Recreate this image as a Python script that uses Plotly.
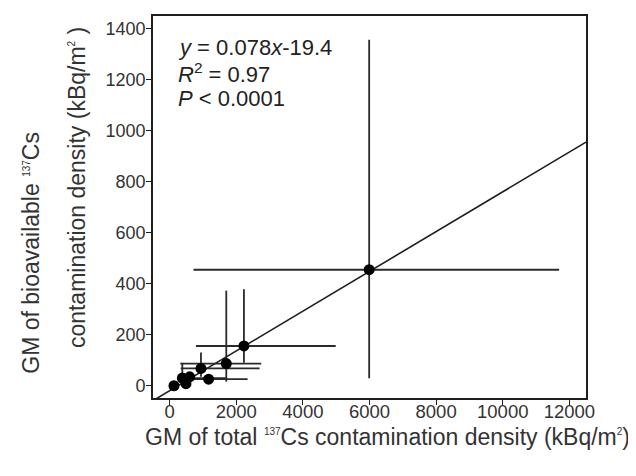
import plotly.graph_objects as go

# Data (kBq/m2)
total_gm = [130, 490, 380, 600, 940, 1170, 1700, 2230, 5990]
bio_gm = [0, 8, 30, 35, 68, 26, 87, 156, 455]
total_low = [130, 490, 300, 600, 330, 717, 320, 790, 717]
total_high = [130, 490, 1700, 600, 2700, 2340, 2750, 4985, 11693]
bio_low = [0, 8, 10, 35, 35, 26, 16, 90, 29]
bio_high = [0, 8, 90, 35, 130, 26, 373, 378, 1357]

slope = 0.078
intercept = -19.4
x_range = [-500, 12500]
y_range = [-48, 1450]
x_ticks = [0, 2000, 4000, 6000, 8000, 10000, 12000]
y_ticks = [0, 200, 400, 600, 800, 1000, 1200, 1400]
x_tick_labels = ["0", "2000", "4000", "6000", "8000", "10000", "12000"]
y_tick_labels = ["0", "200", "400", "600", "800", "1000", "1200", "1400"]

ink = "#1e1e1e"
font_family = "Liberation Sans, Arial, sans-serif"

# the page body has an 8px margin; shift the figure to compensate
OFF = 8
PL, PR, PT, PB = 153, 586, 14, 398  # plot area in page pixels
W, H = 636 - OFF, 476 - OFF


def px_x(p):
    return (p - PL) / (PR - PL)


def px_y(p):
    return 1 - (p - PT) / (PB - PT)


fig = go.Figure()

fig.add_trace(go.Scatter(
    x=x_range,
    y=[slope * v + intercept for v in x_range],
    mode="lines",
    line=dict(color=ink, width=1.6),
    showlegend=False,
    hoverinfo="skip",
))

fig.add_trace(go.Scatter(
    x=total_gm,
    y=bio_gm,
    mode="markers",
    marker=dict(color="#000000", size=11),
    error_x=dict(
        type="data", symmetric=False,
        array=[h - v for h, v in zip(total_high, total_gm)],
        arrayminus=[v - l for l, v in zip(total_low, total_gm)],
        color="#2a2a2a", thickness=1.8, width=0,
    ),
    error_y=dict(
        type="data", symmetric=False,
        array=[h - v for h, v in zip(bio_high, bio_gm)],
        arrayminus=[v - l for l, v in zip(bio_low, bio_gm)],
        color="#2a2a2a", thickness=1.8, width=0,
    ),
    showlegend=False,
))

axis_common = dict(
    showgrid=False, zeroline=False,
    showline=True, mirror=True, linecolor=ink, linewidth=1.6,
    ticks="outside", ticklen=5, tickwidth=1.4, tickcolor=ink,
)

fig.update_layout(
    width=W, height=H,
    margin=dict(l=PL - OFF, r=W - (PR - OFF), t=PT - OFF, b=H - (PB - OFF)),
    paper_bgcolor="white", plot_bgcolor="white",
    font=dict(family=font_family, color="#333333"),
    xaxis=dict(range=x_range, tickvals=x_ticks, ticktext=x_tick_labels,
               tickfont=dict(family=font_family, size=18.5, color="#333333"),
               ticklabelstandoff=-9, **axis_common),
    yaxis=dict(range=y_range, tickvals=y_ticks, ticktext=y_tick_labels,
               tickfont=dict(family=font_family, size=18, color="#333333"),
               ticklabelstandoff=-3, **axis_common),
)

txt = dict(family=font_family, size=22, color="#222222")
stats_lines = [
    "<i>y</i> = 0.078<i>x</i>-19.4",
    "<i>R</i><sup>2</sup> = 0.97",
    "<i>P</i> &lt; 0.0001",
]
stats_y = [46, 71, 97]
for line, py in zip(stats_lines, stats_y):
    fig.add_annotation(
        text=line, xref="paper", yref="paper",
        x=px_x(176), y=px_y(py),
        xanchor="left", yanchor="middle", showarrow=False, font=txt,
    )

title_font = dict(family=font_family, size=23, color="#333333")
small = '<sup><span style="font-size:10px">{}</span></sup>'
fig.add_annotation(
    text="GM of total " + small.format("137") + "Cs contamination density (kBq/m"
         + small.format("2") + ")",
    xref="paper", yref="paper",
    x=px_x(387), y=px_y(437),
    xanchor="center", yanchor="middle", showarrow=False, font=title_font,
)
fig.add_annotation(
    text="GM of bioavailable " + small.format("137") + "Cs",
    xref="paper", yref="paper",
    x=px_x(31), y=px_y(252),
    xanchor="center", yanchor="middle", showarrow=False, textangle=-90,
    font=title_font,
)
fig.add_annotation(
    text="contamination density (kBq/m" + small.format("2") + " )",
    xref="paper", yref="paper",
    x=px_x(77), y=px_y(187),
    xanchor="center", yanchor="middle", showarrow=False, textangle=-90,
    font=title_font,
)

fig.write_html("out.html")
